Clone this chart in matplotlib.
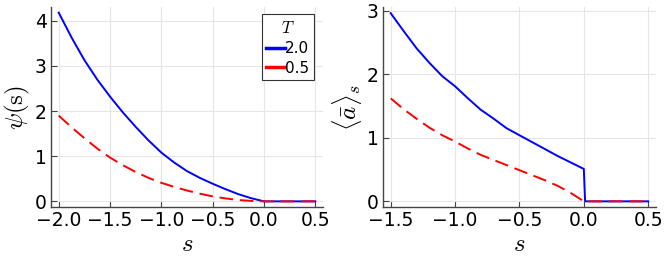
import numpy as np
import matplotlib
matplotlib.use("Agg")
import matplotlib.pyplot as plt

plt.rcParams["mathtext.fontset"] = "cm"

# left panel: psi(s)
s_psi = [-2.0, -1.875, -1.75, -1.625, -1.5, -1.375, -1.25, -1.125, -1.0,
         -0.875, -0.75, -0.625, -0.5, -0.375, -0.25, -0.125, 0.0, 0.5]
psi_T2 = [4.18, 3.63, 3.13, 2.70, 2.32, 1.97, 1.65, 1.35, 1.08,
          0.86, 0.67, 0.52, 0.39, 0.27, 0.16, 0.07, 0.0, 0.0]
psi_T05 = [1.90, 1.64, 1.40, 1.17, 0.97, 0.80, 0.65, 0.52, 0.41,
           0.32, 0.24, 0.17, 0.11, 0.065, 0.03, 0.01, 0.0, 0.0]

# right panel: <a>_s
s_a = [-1.5, -1.4, -1.3, -1.2, -1.1, -1.0, -0.9, -0.8, -0.7, -0.6,
       -0.5, -0.4, -0.3, -0.2, -0.1, 0.0, 0.01, 0.5]
a_T2 = [2.96, 2.68, 2.41, 2.18, 1.97, 1.81, 1.62, 1.44, 1.30, 1.15,
        1.04, 0.93, 0.82, 0.71, 0.61, 0.51, 0.0, 0.0]
a_T05 = [1.62, 1.45, 1.30, 1.16, 1.04, 0.94, 0.83, 0.73, 0.65, 0.57,
         0.49, 0.41, 0.33, 0.24, 0.13, 0.0, 0.0, 0.0]

labels = ["2.0", "0.5"]

fig = plt.figure(figsize=(6.64, 2.66), dpi=100)
ax1 = fig.add_axes([0.0768, 0.2218, 0.4096, 0.7519])
ax2 = fig.add_axes([0.5768, 0.2218, 0.411, 0.7519])


def style(ax, xt, yt):
    ax.grid(True, color="#e6e6e6", lw=0.8)
    ax.set_axisbelow(True)
    for side in ["top", "right"]:
        ax.spines[side].set_visible(False)
    for side in ["left", "bottom"]:
        ax.spines[side].set_color("#444444")
        ax.spines[side].set_linewidth(1.0)
    ax.tick_params(direction="in", length=4, width=0.8, color="#444444",
                   labelsize=13.5, pad=3)
    ax.set_xticks(xt)
    ax.set_xticklabels([f"{v:.1f}".replace("-", "\u2212") for v in xt])
    ax.set_yticks(yt)


ax1.plot(s_psi, psi_T2, color="blue", lw=1.4, label=labels[0])
ax1.plot(s_psi, psi_T05, color="red", lw=1.4, dashes=(7, 3.5), label=labels[1])
ax1.set_xlim(-2.075, 0.575)
ax1.set_ylim(-0.125, 4.305)
style(ax1, [-2.0, -1.5, -1.0, -0.5, 0.0, 0.5], [0, 1, 2, 3, 4])
ax1.set_xlabel(r"$s$", fontsize=18, labelpad=1)
ax1.set_ylabel(r"$\psi(\mathrm{s})$", fontsize=18, labelpad=2)

leg = ax1.legend(title=r"$T$", fontsize=11, title_fontsize=12,
                 loc="upper right", bbox_to_anchor=(0.967, 0.965),
                 handlelength=1.2, handletextpad=0.05, labelspacing=0.3,
                 borderpad=0.3, borderaxespad=0, fancybox=False,
                 framealpha=1, edgecolor="#333333")
leg.get_frame().set_linewidth(0.8)
for h in leg.legend_handles:
    h.set_linewidth(2.5)
    h.set_linestyle("-")

ax2.plot(s_a, a_T2, color="blue", lw=1.4)
ax2.plot(s_a, a_T05, color="red", lw=1.4, dashes=(7, 3.5))
ax2.set_xlim(-1.56, 0.56)
ax2.set_ylim(-0.089, 3.058)
style(ax2, [-1.5, -1.0, -0.5, 0.0, 0.5], [0, 1, 2, 3])
ax2.set_xlabel(r"$s$", fontsize=18, labelpad=1)
ax2.set_ylabel(r"$\langle\bar{a}\rangle_s$", fontsize=18, labelpad=2)

fig.savefig("out.png", dpi=100)
